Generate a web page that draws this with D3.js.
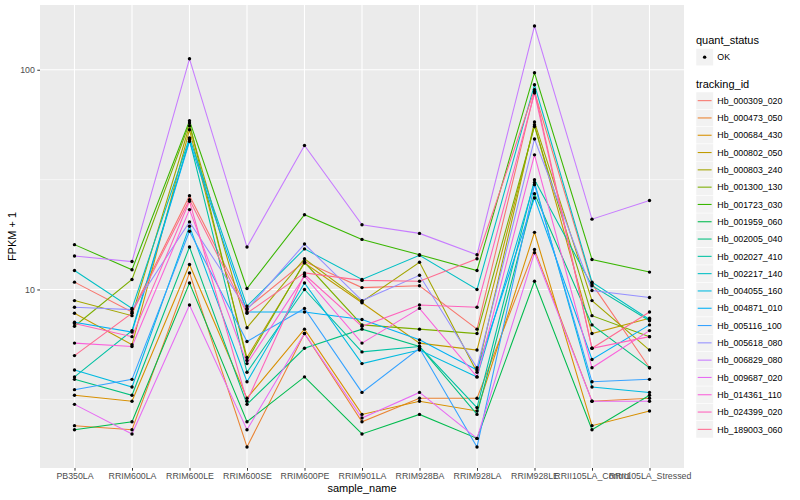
<!DOCTYPE html>
<html>
<head>
<meta charset="utf-8">
<script src="https://cdn.jsdelivr.net/npm/d3@7"></script>
<style>
  body { margin: 0; background: #fff; }
  text { font-family: "Liberation Sans", Arial, Helvetica, sans-serif; }
</style>
</head>
<body>
<svg id="chart" width="800" height="500"></svg>
<script>
const samples = ['PB350LA', 'RRIM600LA', 'RRIM600LE', 'RRIM600SE', 'RRIM600PE', 'RRIM901LA',
  'RRIM928BA', 'RRIM928LA', 'RRIM928LE', 'RRII105LA_Control', 'RRII105LA_Stressed']

// FPKM per gene, one value per sample (same order as samples)
const hb_000309_020 = [9.8, 6.9, 25.7, 7.2, 12.4, 9.2, 9.4, 5.6, 78.4, 9.6, 3.4]
const hb_000473_050 = [1.4, 1.3, 10.9, 0.92, 5.3, 1.5, 2.2, 2.2, 14.2, 2.1, 2.2]
const hb_000684_430 = [2.3, 2.1, 12.0, 2.2, 5.6, 1.7, 2.1, 1.8, 17.2, 1.4, 1.8]
const hb_000802_050 = [6.8, 4.6, 52.3, 3.9, 12.2, 7.7, 4.7, 4.3, 55.2, 5.3, 6.4]
const hb_000803_240 = [7.9, 6.6, 54.6, 5.7, 12.8, 7.8, 12.3, 3.2, 56.8, 7.9, 4.3]
const hb_001300_130 = [5.8, 10.1, 56.2, 3.75, 12.3, 5.9, 5.6, 5.3, 54.2, 6.6, 5.1]
const hb_001723_030 = [15.0, 11.3, 57.6, 9.1, 20.9, 15.9, 13.4, 11.2, 95.9, 12.7, 11.0]
const hb_001959_060 = [1.3, 1.5, 9.7, 1.5, 3.0, 1.2, 1.7, 1.1, 9.9, 1.3, 2.3]
const hb_002005_040 = [2.9, 2.3, 14.6, 2.0, 4.4, 5.6, 4.5, 1.7, 26.3, 5.9, 3.4]
const hb_002027_410 = [3.0, 5.5, 47.0, 3.2, 9.0, 4.2, 4.5, 1.9, 30.6, 9.4, 6.2]
const hb_002217_140 = [11.2, 7.2, 47.9, 7.4, 14.3, 10.1, 13.3, 9.0, 84.4, 9.8, 6.3]
const hb_004055_160 = [3.3, 2.6, 18.4, 2.8, 9.7, 3.6, 4.3, 3.0, 29.7, 2.6, 2.4]
const hb_004871_010 = [6.1, 5.4, 46.2, 6.9, 6.9, 6.3, 4.9, 3.3, 25.1, 3.8, 5.9]
const hb_005116_100 = [2.5, 2.9, 17.4, 4.8, 7.2, 2.4, 4.4, 0.92, 29.0, 2.8, 2.9]
const hb_005618_080 = [7.3, 7.1, 19.3, 7.1, 15.1, 7.9, 10.6, 3.4, 47.4, 8.9, 8.2]
const hb_006829_080 = [13.2, 12.4, 111.2, 14.6, 44.2, 18.7, 17.0, 13.4, 157.1, 19.9, 24.4]
const hb_009687_020 = [2.0, 1.2, 7.5, 1.3, 5.3, 1.6, 2.4, 1.1, 13.7, 2.1, 2.1]
const hb_014361_110 = [4.7, 4.5, 22.1, 3.6, 10.5, 4.7, 7.2, 3.0, 40.0, 3.4, 5.5]
const hb_024399_020 = [6.0, 5.1, 24.2, 2.1, 10.7, 5.8, 7.5, 7.3, 77.3, 4.4, 5.1]
const hb_189003_060 = [4.0, 6.8, 24.6, 6.8, 10.9, 10.0, 9.9, 12.8, 80.1, 4.4, 6.9]

const trackingIds = ['Hb_000309_020', 'Hb_000473_050', 'Hb_000684_430', 'Hb_000802_050',
  'Hb_000803_240', 'Hb_001300_130', 'Hb_001723_030', 'Hb_001959_060', 'Hb_002005_040',
  'Hb_002027_410', 'Hb_002217_140', 'Hb_004055_160', 'Hb_004871_010', 'Hb_005116_100',
  'Hb_005618_080', 'Hb_006829_080', 'Hb_009687_020', 'Hb_014361_110', 'Hb_024399_020',
  'Hb_189003_060']

const fpkmRows = [hb_000309_020, hb_000473_050, hb_000684_430, hb_000802_050, hb_000803_240,
  hb_001300_130, hb_001723_030, hb_001959_060, hb_002005_040, hb_002027_410, hb_002217_140,
  hb_004055_160, hb_004871_010, hb_005116_100, hb_005618_080, hb_006829_080, hb_009687_020,
  hb_014361_110, hb_024399_020, hb_189003_060]

const quantStatus = ['OK']
const yBreaks = [10, 100]
const yMinorBreaks = [Math.sqrt(10), Math.sqrt(1000)]

// ggplot hue palette for 20 levels
const hues = ['#F8766D', '#EA8331', '#D89000', '#C09B00', '#A3A500', '#7CAE00', '#39B600',
  '#00BB4E', '#00BF7D', '#00C1A3', '#00BFC4', '#00BAE0', '#00B0F6', '#35A2FF', '#9590FF',
  '#C77CFF', '#E76BF3', '#FA62DB', '#FF62BC', '#FF6C91']

const series = trackingIds.map((id, i) => ({
  id,
  values: samples.map((s, j) => ({ sample: s, y: fpkmRows[i][j] + 1 }))
}))

const svg = d3.select('#chart')
const panel = { left: 40, right: 684, top: 5, bottom: 468 }

const x = d3.scalePoint()
  .domain(samples)
  .range([panel.left, panel.right])
  .padding(0.6)

// log scale with 5% expansion in log space like ggplot
const allY = series.flatMap(s => s.values.map(v => v.y))
const lo = Math.log10(d3.min(allY))
const hi = Math.log10(d3.max(allY))
const pad = (hi - lo) * 0.05
const y = d3.scaleLog()
  .domain([Math.pow(10, lo - pad), Math.pow(10, hi + pad)])
  .range([panel.bottom, panel.top])

const color = d3.scaleOrdinal().domain(trackingIds).range(hues)

// panel background + grid
svg.append('rect')
  .attr('x', panel.left).attr('y', panel.top)
  .attr('width', panel.right - panel.left).attr('height', panel.bottom - panel.top)
  .attr('fill', '#EBEBEB')

svg.append('g').selectAll('line')
  .data(yMinorBreaks)
  .join('line')
    .attr('x1', panel.left).attr('x2', panel.right)
    .attr('y1', d => y(d)).attr('y2', d => y(d))
    .attr('stroke', '#fff').attr('stroke-width', 0.55)

svg.append('g').selectAll('line')
  .data(yBreaks)
  .join('line')
    .attr('x1', panel.left).attr('x2', panel.right)
    .attr('y1', d => y(d)).attr('y2', d => y(d))
    .attr('stroke', '#fff').attr('stroke-width', 1.1)

svg.append('g').selectAll('line')
  .data(samples)
  .join('line')
    .attr('x1', d => x(d)).attr('x2', d => x(d))
    .attr('y1', panel.top).attr('y2', panel.bottom)
    .attr('stroke', '#fff').attr('stroke-width', 1.1)

// lines
const line = d3.line()
  .x(d => x(d.sample))
  .y(d => y(d.y))

svg.append('g').selectAll('path')
  .data(series)
  .join('path')
    .attr('d', d => line(d.values))
    .attr('fill', 'none')
    .attr('stroke', d => color(d.id))
    .attr('stroke-width', 1.07)

// points
svg.append('g').selectAll('circle')
  .data(series.flatMap(s => s.values))
  .join('circle')
    .attr('cx', d => x(d.sample))
    .attr('cy', d => y(d.y))
    .attr('r', 1.7)
    .attr('fill', '#000')

// axes
const xAxis = svg.append('g')
  .attr('transform', `translate(0, ${panel.bottom})`)
  .call(d3.axisBottom(x).tickSize(2.7).tickPadding(2.5))
xAxis.select('.domain').remove()
xAxis.selectAll('line').attr('stroke', '#333')
xAxis.selectAll('text')
  .attr('fill', '#4D4D4D')
  .style('font-size', '8.8px')
  .style('font-family', '"Liberation Sans", Arial, sans-serif')

const yAxis = svg.append('g')
  .attr('transform', `translate(${panel.left}, 0)`)
  .call(d3.axisLeft(y).tickValues(yBreaks).tickFormat(d3.format('d')).tickSize(2.7).tickPadding(2.5))
yAxis.select('.domain').remove()
yAxis.selectAll('line').attr('stroke', '#333')
yAxis.selectAll('text')
  .attr('fill', '#4D4D4D')
  .style('font-size', '8.8px')
  .style('font-family', '"Liberation Sans", Arial, sans-serif')

svg.append('text')
  .attr('x', (panel.left + panel.right) / 2)
  .attr('y', 492)
  .attr('text-anchor', 'middle')
  .style('font-size', '11px')
  .attr('fill', '#000')
  .text('sample_name')

svg.append('text')
  .attr('transform', `translate(16, ${(panel.top + panel.bottom) / 2}) rotate(-90)`)
  .attr('text-anchor', 'middle')
  .style('font-size', '11px')
  .attr('fill', '#000')
  .text('FPKM + 1')

// legends
const legendX = 696
const keySize = 17.3

svg.append('text')
  .attr('x', legendX).attr('y', 44)
  .style('font-size', '11px')
  .text('quant_status')

const qs = svg.append('g').selectAll('g')
  .data(quantStatus)
  .join('g')
    .attr('transform', (d, i) => `translate(${legendX}, ${48.5 + i * keySize})`)
qs.append('rect')
  .attr('width', keySize).attr('height', keySize)
  .attr('fill', '#F2F2F2').attr('stroke', '#fff').attr('stroke-width', 0.5)
qs.append('circle')
  .attr('cx', keySize / 2).attr('cy', keySize / 2).attr('r', 1.7).attr('fill', '#000')
qs.append('text')
  .attr('x', keySize + 4).attr('y', keySize / 2 + 3.2)
  .style('font-size', '8.8px')
  .text(d => d)

svg.append('text')
  .attr('x', legendX).attr('y', 88)
  .style('font-size', '11px')
  .text('tracking_id')

const tk = svg.append('g').selectAll('g')
  .data(trackingIds)
  .join('g')
    .attr('transform', (d, i) => `translate(${legendX}, ${92 + i * keySize})`)
tk.append('rect')
  .attr('width', keySize).attr('height', keySize)
  .attr('fill', '#F2F2F2').attr('stroke', '#fff').attr('stroke-width', 0.5)
tk.append('line')
  .attr('x1', 1.7).attr('x2', keySize - 1.7)
  .attr('y1', keySize / 2).attr('y2', keySize / 2)
  .attr('stroke', d => color(d)).attr('stroke-width', 1.07)
tk.append('text')
  .attr('x', keySize + 4).attr('y', keySize / 2 + 3.2)
  .style('font-size', '8.8px')
  .text(d => d)
</script>
</body>
</html>
